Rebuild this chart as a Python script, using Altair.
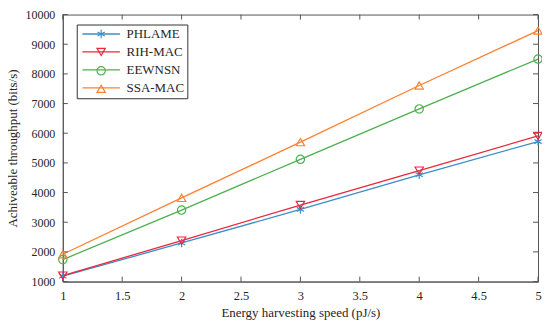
import altair as alt
import pandas as pd

speeds = [1, 2, 3, 4, 5]
series_names = ["PHLAME", "RIH-MAC", "EEWNSN", "SSA-MAC"]
phlame = [1180, 2300, 3430, 4600, 5720]
rih_mac = [1200, 2380, 3580, 4740, 5910]
eewnsn = [1740, 3410, 5120, 6820, 8500]
ssa_mac = [1920, 3820, 5700, 7610, 9460]

x_ticks = [1, 1.5, 2, 2.5, 3, 3.5, 4, 4.5, 5]
y_ticks = [1000, 2000, 3000, 4000, 5000, 6000, 7000, 8000, 9000, 10000]

colors = ["#3a8fc6", "#e8283c", "#4cb050", "#ff8030"]
asterisk = "M0,-1L0,1M-0.87,-0.5L0.87,0.5M-0.87,0.5L0.87,-0.5"
shapes = [asterisk, "triangle-down", "circle", "triangle-up"]

# marker legend uses its own (hidden-label) domain so it is not merged with the line legend
marker_names = [n + " " for n in series_names]

rows = []
for name, mname, vals in zip(series_names, marker_names, [phlame, rih_mac, eewnsn, ssa_mac]):
    for s, v in zip(speeds, vals):
        rows.append({"speed": s, "thr": v, "series": name, "series_m": mname})
df = pd.DataFrame(rows)

W, H = 477, 268
FONT = "Times New Roman, Liberation Serif, serif"
AX = "#555555"
TXT = "#262626"
SYM = 70

xs = alt.Scale(domain=[1, 5], nice=False, zero=False)
ys = alt.Scale(domain=[1000, 10000], nice=False, zero=False)

xaxis = alt.Axis(
    values=x_ticks, format="~g", title="Energy harvesting speed (pJ/s)", tickSize=0,
    labelPadding=8, titlePadding=5, grid=False, domainColor=AX,
    labelFont=FONT, titleFont=FONT, labelColor=TXT, titleColor=TXT,
    labelFontSize=12.5, titleFontSize=13, titleFontWeight="normal",
    labelFlush=False, labelOverlap=False)
yaxis = alt.Axis(
    values=y_ticks, format="d", title="Achiveable throughput (bits/s)", tickSize=0,
    labelPadding=8, titlePadding=5, grid=False, domainColor=AX,
    labelFont=FONT, titleFont=FONT, labelColor=TXT, titleColor=TXT,
    labelFontSize=12, titleFontSize=13, titleFontWeight="normal",
    labelFlush=False, labelOverlap=False)

legend_common = dict(
    title=None, orient="none", legendX=14, legendY=10,
    symbolSize=SYM, labelFontSize=13, labelFont=FONT, rowPadding=4,
    padding=3, symbolOffset=15, labelOffset=19)

lines = alt.Chart(df).mark_line(strokeWidth=1.3).encode(
    x=alt.X("speed:Q", scale=xs, axis=xaxis),
    y=alt.Y("thr:Q", scale=ys, axis=yaxis),
    color=alt.Color("series:N", scale=alt.Scale(domain=series_names, range=colors),
                    legend=alt.Legend(
                        symbolType="M-4.5,0L4.5,0", symbolStrokeWidth=1.3,
                        labelColor=TXT, fillColor="white", strokeColor="#333333",
                        zindex=1, **legend_common)),
)

marker_legend = alt.Legend(
    symbolStrokeWidth=1.2, symbolFillColor="white", labelOpacity=0, zindex=2,
    **legend_common)

points = alt.Chart(df).mark_point(filled=False, size=SYM, strokeWidth=1.2, opacity=1).encode(
    x=alt.X("speed:Q", scale=xs, axis=xaxis),
    y=alt.Y("thr:Q", scale=ys, axis=yaxis),
    stroke=alt.Stroke("series_m:N", scale=alt.Scale(domain=marker_names, range=colors),
                      legend=marker_legend),
    shape=alt.Shape("series_m:N", scale=alt.Scale(domain=marker_names, range=shapes),
                    legend=marker_legend),
)

xt = pd.DataFrame({"t": x_ticks})
yt = pd.DataFrame({"t": y_ticks})
xtick_b = alt.Chart(xt).mark_rule(color=AX).encode(
    x=alt.X("t:Q", scale=xs, axis=xaxis), y=alt.value(H), y2=alt.value(H - 5))
xtick_t = alt.Chart(xt).mark_rule(color=AX).encode(
    x=alt.X("t:Q", scale=xs, axis=xaxis), y=alt.value(0), y2=alt.value(5))
ytick_l = alt.Chart(yt).mark_rule(color=AX).encode(
    y=alt.Y("t:Q", scale=ys, axis=yaxis), x=alt.value(0), x2=alt.value(5))
ytick_r = alt.Chart(yt).mark_rule(color=AX).encode(
    y=alt.Y("t:Q", scale=ys, axis=yaxis), x=alt.value(W), x2=alt.value(W - 5))

chart = alt.layer(lines, xtick_b, xtick_t, ytick_l, ytick_r, points).properties(
    width=W, height=H,
    autosize=alt.AutoSizeParams(type="none"),
    padding={"left": 55, "top": 6, "right": 4, "bottom": 39},
    background="white",
).configure(font=FONT).configure_view(stroke=AX, strokeWidth=1)

chart.save("out.html", embed_options={"renderer": "svg", "actions": False})
